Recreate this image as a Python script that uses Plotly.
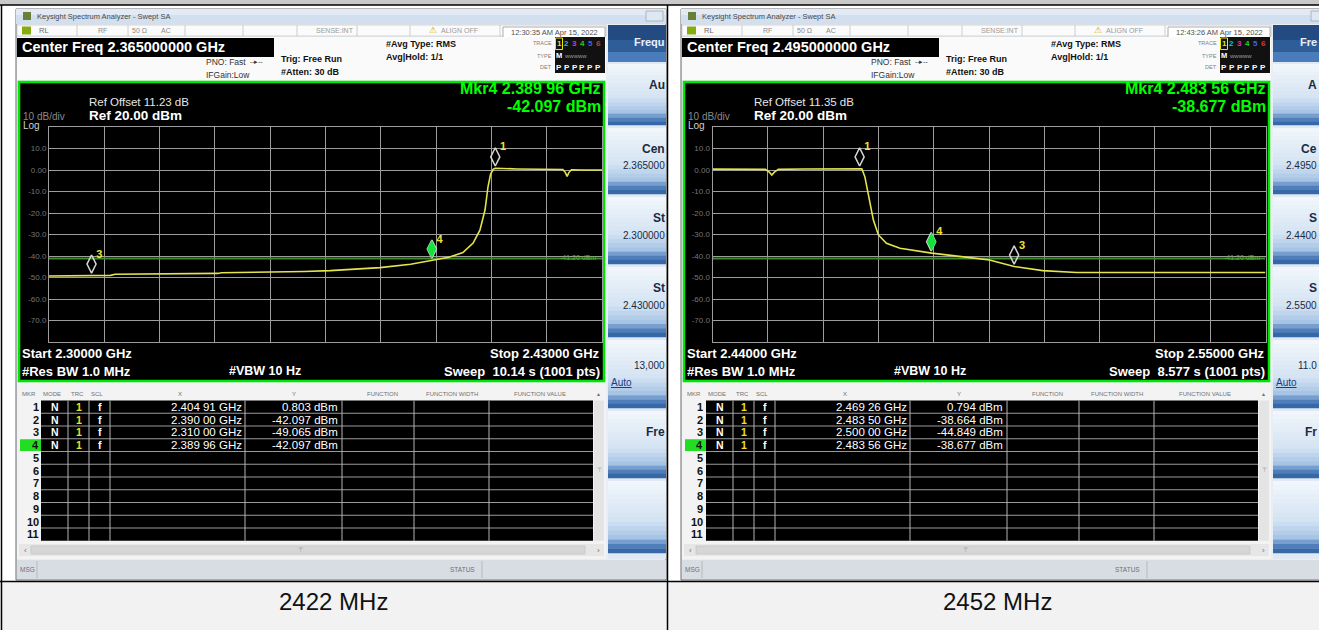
import plotly.graph_objects as go

W, H = 1319, 630
FONT = "Liberation Sans, Arial, sans-serif"
NARROW = "Liberation Sans Narrow, Arial Narrow, Liberation Sans, Arial, sans-serif"

# ------------------------------ data ------------------------------
captions = ["2422 MHz", "2452 MHz"]
start_ghz = [2.30, 2.44]
stop_ghz = [2.43, 2.55]
ref_offset_db = ["11.23", "11.35"]
ref_level = "Ref 20.00 dBm"
sweep_text = ["10.14 s (1001 pts)", "8.577 s (1001 pts)"]
timestamps = ["12:30:35 AM Apr 15, 2022", "12:43:26 AM Apr 15, 2022"]
display_line_dbm = -41.20
display_line_text = "-41.20 dBm"

y_ticks = [10, 0, -10, -20, -30, -40, -50, -60, -70]
y_tick_text = ["10.0", "0.00", "-10.0", "-20.0", "-30.0", "-40.0", "-50.0", "-60.0", "-70.0"]

# Trace 1 (2422 MHz, lower band edge)
trace_a_ghz = [2.300, 2.305, 2.310, 2.3145, 2.3155, 2.330, 2.3397, 2.3405, 2.3496, 2.360,
               2.3661, 2.3778, 2.385, 2.390, 2.394, 2.3973, 2.3997, 2.4013, 2.4025, 2.4032,
               2.4038, 2.4044, 2.4049, 2.410, 2.415, 2.4208, 2.4214, 2.4218, 2.4222, 2.4228,
               2.4250, 2.4300]
trace_a_dbm = [-49.3, -49.2, -49.1, -49.0, -48.5, -48.3, -48.1, -47.8, -47.6, -47.2,
               -46.8, -45.4, -43.8, -42.1, -40.6, -38.4, -34.0, -28.0, -18.6, -7.8,
               -2.0, 0.3, 0.8, 0.5, 0.3, 0.2, -1.2, -3.0, -1.2, 0.1,
               0.0, 0.0]

# Trace 2 (2452 MHz, upper band edge)
trace_b_ghz = [2.440, 2.445, 2.4505, 2.4513, 2.4518, 2.4523, 2.4531, 2.458, 2.4650, 2.4693,
               2.4697, 2.4703, 2.4710, 2.4720, 2.4730, 2.4746, 2.4773, 2.4800, 2.4836, 2.4895,
               2.4951, 2.5000, 2.5057, 2.5124, 2.5200, 2.5350, 2.5500]
trace_b_dbm = [0.4, 0.4, 0.3, -1.0, -2.3, -1.0, 0.3, 0.5, 0.5, 0.79,
               0.6, -3.1, -10.9, -23.3, -30.2, -34.1, -36.4, -37.3, -38.68, -40.3,
               -41.9, -44.85, -46.8, -47.7, -47.7, -47.7, -47.7]

markers_a_ghz = [2.40491, 2.39000, 2.31000, 2.38996]
markers_a_dbm = [0.803, -42.097, -49.065, -42.097]
markers_b_ghz = [2.46926, 2.48350, 2.50000, 2.48356]
markers_b_dbm = [0.794, -38.664, -44.849, -38.677]

marker_labels = ["1", "2", "3", "4"]
table_rows = [str(i) for i in range(1, 12)]
table_header = ["MKR", "MODE", "TRC", "SCL", "X", "Y", "FUNCTION", "FUNCTION WIDTH", "FUNCTION VALUE"]

softkey_labels = [["Frequ", "Au", "Cen", "St", "St", "", "Fre", ""],
                  ["Fre", "A", "Ce", "S", "S", "", "Fr", ""]]
softkey_values = [["", "", "2.365000", "2.300000", "2.430000", "13,000", "", ""],
                  ["", "", "2.4950", "2.4400", "2.5500", "11.0", "", ""]]

traces_ghz = [trace_a_ghz, trace_b_ghz]
traces_dbm = [trace_a_dbm, trace_b_dbm]
markers_ghz = [markers_a_ghz, markers_b_ghz]
markers_dbm = [markers_a_dbm, markers_b_dbm]

# ------------------------------ helpers ------------------------------
shapes, annos = [], []


def X(x):
    return x / W


def Y(y):
    return 1 - y / H


def rect(x0, y0, x1, y1, fill, line=None, lw=0):
    shapes.append(dict(type="rect", xref="paper", yref="paper",
                       x0=X(x0), x1=X(x1), y0=Y(y1), y1=Y(y0), fillcolor=fill,
                       line=dict(color=line if line else "rgba(0,0,0,0)", width=lw),
                       layer="below"))


def seg(x0, y0, x1, y1, color, lw=1):
    shapes.append(dict(type="line", xref="paper", yref="paper",
                       x0=X(x0), x1=X(x1), y0=Y(y0), y1=Y(y1),
                       line=dict(color=color, width=lw), layer="below"))


def txt(x, y, s, size=9, color="#000", bold=False, anchor="left", family=FONT):
    annos.append(dict(xref="paper", yref="paper", x=X(x), y=Y(y),
                      text=f"<b>{s}</b>" if bold else s, showarrow=False,
                      xanchor=anchor, yanchor="middle", borderpad=0,
                      font=dict(size=size, color=color, family=family)))


def fmt_ghz(v):
    s = f"{v:.5f}"
    return s[:5] + " " + s[5:]


def mix(c1, c2, t):
    a = [int(c1[i:i + 2], 16) for i in (1, 3, 5)]
    b = [int(c2[i:i + 2], 16) for i in (1, 3, 5)]
    return "#%02x%02x%02x" % tuple(round(a[j] + (b[j] - a[j]) * t) for j in range(3))


def button(x0, x1, y0, y1):
    h = y1 - y0
    stops = [(0.0, "#f2f7fc"), (0.55, "#d3e3f3"), (0.78, "#a7c5e6"), (0.88, "#5a88c2"), (1.0, "#2a5c9c")]
    n = 16
    for s in range(n):
        t0, t1 = s / n, (s + 1) / n
        tm = (t0 + t1) / 2
        col = stops[-1][1]
        for (p0, c0), (p1, c1) in zip(stops[:-1], stops[1:]):
            if p0 <= tm <= p1:
                col = mix(c0, c1, (tm - p0) / (p1 - p0))
                break
        rect(x0, y0 + t0 * h, x1, y0 + t1 * h + 0.3, col)


# ------------------------------ page / table ------------------------------
rect(0, 0, W, 5, "#c9c9c9")
rect(0, 581.5, W, H, "#f2f2f2")

ROW0, ROWH = 400.5, 12.75
BTN = [(64, 125), (128, 194), (197, 264), (267, 337), (340, 408), (411, 478), (481, 553)]


def draw_panel(k, dx):
    start, stop = start_ghz[k], stop_ghz[k]
    center = (start + stop) / 2
    mk_f, mk_v = markers_ghz[k], markers_dbm[k]
    clip = 665.5 if k == 0 else W - 1

    # window
    rect(16 + dx, 9, 666 + dx, 580, "#e9eef4", "#6a6a6a", 1)
    rect(16 + dx, 9, 666 + dx, 24, "#d2dfee")
    rect(16 + dx, 9, 666 + dx, 15, "#e1eaf5")
    rect(23 + dx, 12, 31 + dx, 20, "#6a7f3a")
    txt(36 + dx, 16.5, "Keysight Spectrum Analyzer - Swept SA", 7.5, "#4a4a4a")
    rect(646 + dx, 11, 663 + dx, 21, "#dfe8f2", "#9aaabb", 0.8)

    # status row
    rect(17 + dx, 25, 606 + dx, 36, "#fbfbfb", "#bcbcbc", 0.6)
    for sx in [77, 128, 185, 243, 297, 357, 410, 500]:
        seg(sx + dx, 25, sx + dx, 36, "#c4c4c4", 0.8)
    rect(22 + dx, 26.5, 31 + dx, 34.5, "#86ad10")
    txt(38 + dx, 30.5, "RL", 7.5, "#6a6a6a")
    txt(97 + dx, 30.5, "RF", 7, "#8a8a8a")
    txt(131 + dx, 30.5, "50 Ω", 7, "#8a8a8a")
    txt(160 + dx, 30.5, "AC", 7, "#8a8a8a")
    txt(355 + dx, 30.5, "SENSE:INT", 7, "#9a9a9a", anchor="right")
    txt(428 + dx, 30, "⚠", 9, "#d8a800")
    txt(440 + dx, 30.5, "ALIGN OFF", 7, "#9a9a9a")
    rect(503 + dx, 27, 605 + dx, 38, "#ffffff", "#9a9a9a", 0.8)
    txt(554 + dx, 32.5, timestamps[k], 7.5, "#505050", anchor="center")

    # header info
    rect(17 + dx, 37, 606 + dx, 80, "#fafafa")
    rect(17 + dx, 38, 274 + dx, 57, "#000000")
    txt(21 + dx, 47.5, f"Center Freq {center:.9f} GHz", 14.5, "#ffffff", bold=True)
    txt(205 + dx, 62, "PNO: Fast", 8.5, "#333333")
    txt(249 + dx, 61.5, "--▸--", 6.5, "#333333")
    txt(205 + dx, 75, "IFGain:Low", 8.5, "#333333")
    txt(280 + dx, 59, "Trig: Free Run", 9, "#111111", bold=True)
    txt(280 + dx, 72, "#Atten: 30 dB", 9, "#111111", bold=True)
    txt(385 + dx, 44, "#Avg Type: RMS", 9, "#111111", bold=True)
    txt(385 + dx, 57, "Avg|Hold: 1/1", 9, "#111111", bold=True)
    txt(553 + dx, 43.5, "TRACE", 5.5, "#808080", anchor="right")
    txt(553 + dx, 55.5, "TYPE", 5.5, "#808080", anchor="right")
    txt(553 + dx, 67.5, "DET", 5.5, "#808080", anchor="right")
    rect(555 + dx, 37, 605 + dx, 73, "#111111")
    tcol = ["#e8e800", "#00c8d8", "#d830d8", "#20d020", "#4060ff", "#e03030"]
    rect(555.5 + dx, 38, 562.5 + dx, 49.5, "rgba(0,0,0,0)", "#e8e800", 1)
    for j in range(6):
        txt(559 + dx + j * 7.8, 43.5, str(j + 1), 8, tcol[j], bold=True, anchor="center")
        txt(559 + dx + j * 7.8, 67.5, "P", 8, "#ffffff", bold=True, anchor="center")
    txt(559 + dx, 55.5, "M", 7.5, "#ffffff", bold=True, anchor="center")
    txt(563 + dx, 55.5, "wwwww", 6, "#9a9a9a")

    # graticule frame
    rect(19 + dx, 82, 604 + dx, 381, "#000000", "#00e600", 2.5)
    txt(88 + dx, 102, f"Ref Offset {ref_offset_db[k]} dB", 11.5, "#e6e6e6")
    txt(88 + dx, 115.5, ref_level, 13.5, "#ffffff", bold=True)
    txt(22 + dx, 116.5, "10 dB/div", 10, "#8a8a8a")
    txt(22 + dx, 126, "Log", 10, "#cfcfcf")
    txt(602 + dx, 89, f"Mkr4 {fmt_ghz(mk_f[3])} GHz", 16, "#00ff00", bold=True, anchor="right")
    txt(602 + dx, 106, f"{mk_v[3]:.3f} dBm", 16, "#00ff00", bold=True, anchor="right")
    txt(21 + dx, 353, f"Start {start:.5f} GHz", 13, "#ffffff", bold=True)
    txt(21 + dx, 371, "#Res BW 1.0 MHz", 13, "#ffffff", bold=True)
    txt(265 + dx, 371, "#VBW 10 Hz", 12.5, "#ffffff", bold=True, anchor="center")
    txt(601 + dx, 353, f"Stop {stop:.5f} GHz", 13, "#ffffff", bold=True, anchor="right")
    txt(601 + dx, 371, f"Sweep  {sweep_text[k]}", 13, "#ffffff", bold=True, anchor="right")

    # marker table
    rect(17 + dx, 383, 606 + dx, 559, "#f3f3f3")
    hx = [21, 42, 70, 90]
    for j in range(4):
        txt(hx[j] + dx, 394, table_header[j], 6, "#707070")
    for j, cx in zip(range(4, 9), [180, 294, 382, 452, 540]):
        txt(cx + dx, 394, table_header[j], 6, "#707070", anchor="center")
    txt(598 + dx, 394, "▴", 6, "#707070", anchor="center")
    nrow = len(table_rows)
    ybot = ROW0 + ROWH * nrow
    rect(41 + dx, ROW0, 593 + dx, ybot, "#000000")
    for i in range(1, nrow):
        seg(41 + dx, ROW0 + ROWH * i, 593 + dx, ROW0 + ROWH * i, "#9a9a9a", 1.2)
    for cx in [68, 89, 110, 245, 342, 414, 489]:
        seg(cx + dx, ROW0, cx + dx, ybot, "#b4b4b4", 1)
    for i, lab in enumerate(table_rows):
        yc = ROW0 + ROWH * (i + 0.5)
        if i == 3:
            rect(20 + dx, ROW0 + ROWH * i + 0.5, 41 + dx, ROW0 + ROWH * (i + 1) - 0.5, "#22dd22")
        txt(39.5 + dx, yc, lab, 11, "#111111", bold=True, anchor="right")
    for i in range(len(mk_f)):
        yc = ROW0 + ROWH * (i + 0.5)
        txt(55 + dx, yc, "N", 10.5, "#ffffff", bold=True, anchor="center")
        txt(79 + dx, yc, "1", 10.5, "#f0e020", bold=True, anchor="center")
        txt(99.5 + dx, yc, "f", 10.5, "#ffffff", bold=True, anchor="center")
        txt(243 + dx, yc, f"{fmt_ghz(mk_f[i])} GHz", 11.5, "#ffffff", family=NARROW, anchor="right")
        txt(339 + dx, yc, f"{mk_v[i]:.3f} dBm", 11.5, "#ffffff", family=NARROW, anchor="right")
    # scrollbars
    rect(594 + dx, ROW0, 604 + dx, ybot, "#e4e4e4")
    txt(599 + dx, 470, "⊤", 6, "#909090", anchor="center")
    rect(19 + dx, 544, 604 + dx, 556, "#e6e6e6")
    rect(31 + dx, 546, 585 + dx, 554, "#d6d6d6", "#c0c0c0", 0.6)
    txt(25 + dx, 550, "‹", 8, "#707070", anchor="center")
    txt(598 + dx, 550, "›", 8, "#707070", anchor="center")
    txt(300 + dx, 550, "⊤", 6, "#909090", anchor="center")
    # message bar
    rect(17 + dx, 560, 666 + dx, 579, "#d8dde3")
    seg(37 + dx, 561, 37 + dx, 578, "#b0b0b0", 0.8)
    seg(482 + dx, 561, 482 + dx, 578, "#b0b0b0", 0.8)
    txt(19 + dx, 569.5, "MSG", 6.5, "#707070")
    txt(462 + dx, 569.5, "STATUS", 6.5, "#707070", anchor="center")

    # softkeys
    sx0, sx1 = 608 + dx, 666 + dx
    rect(sx0, 25, sx1, 559, "#dfe8f3")
    rect(sx0, 25, sx1, 40, "#234b82")
    rect(sx0, 40, sx1, 52, "#2f5d98")
    rect(sx0, 52, sx1, 62, "#4a7cbb")
    txt(clip, 42, softkey_labels[k][0], 11, "#e8f0fb", bold=True, anchor="right")
    for b, (y0, y1) in enumerate(BTN):
        button(sx0, sx1, y0, y1)
        lab = softkey_labels[k][b + 1]
        val = softkey_values[k][b + 1]
        if b == 4:
            txt(clip, y0 + 25, val, 10, "#1a2a40", anchor="right")
            txt(sx0 + 2, y0 + 43, '<span style="text-decoration:underline">Auto</span>', 10, "#1a3a8a")
        else:
            if lab:
                txt(clip, y0 + 21, lab, 12, "#1a2a40", bold=True, anchor="right")
            if val:
                txt(clip, y0 + 38, val, 10, "#1a2a40", anchor="right")


draw_panel(0, 0)
draw_panel(1, 665)

# cell borders on top
seg(0, 5, W, 5, "#000000", 1.5)
seg(1.5, 5, 1.5, H, "#000000", 1.5)
seg(667.5, 5, 667.5, H, "#000000", 1.5)
seg(0, 581.5, W, 581.5, "#000000", 1.5)
txt(333.5, 601.5, captions[0], 24, "#111111", anchor="center")
txt(997.5, 601.5, captions[1], 24, "#111111", anchor="center")

# ------------------------------ spectrum plots ------------------------------
fig = go.Figure()
GRID = "#9c9c9c"
plot_dx = [0, 663.5]
MARKER_LIFT_DB = 5.3
LABEL_LIFT_DB = 9.6

for k in range(2):
    xa = "x" if k == 0 else "x2"
    ya = "y" if k == 0 else "y2"
    start, stop = start_ghz[k], stop_ghz[k]
    fig.add_trace(go.Scatter(x=[start, stop], y=[display_line_dbm, display_line_dbm], mode="lines",
                             line=dict(color="#3f8a2c", width=2), xaxis=xa, yaxis=ya, hoverinfo="skip"))
    fig.add_trace(go.Scatter(x=traces_ghz[k], y=traces_dbm[k], mode="lines",
                             line=dict(color="#e4e44c", width=1.6), xaxis=xa, yaxis=ya, hoverinfo="skip"))
    mf, mv = markers_ghz[k], markers_dbm[k]
    open_idx = [0, 1, 2]
    fig.add_trace(go.Scatter(
        x=[mf[i] for i in open_idx], y=[mv[i] + MARKER_LIFT_DB for i in open_idx], mode="markers",
        marker=dict(symbol="diamond-tall-open", size=13, color="#d6d6d6", line=dict(width=1.5, color="#d6d6d6")),
        xaxis=xa, yaxis=ya, hoverinfo="skip", cliponaxis=False))
    fig.add_trace(go.Scatter(
        x=[mf[3]], y=[mv[3] + MARKER_LIFT_DB], mode="markers",
        marker=dict(symbol="diamond-tall", size=13, color="#12e23a"),
        xaxis=xa, yaxis=ya, hoverinfo="skip", cliponaxis=False))
    lab_idx = [0, 2, 3]
    fig.add_trace(go.Scatter(
        x=[mf[i] for i in lab_idx], y=[mv[i] + LABEL_LIFT_DB for i in lab_idx], mode="markers+text",
        text=[f"<b>{marker_labels[i]}</b>" for i in lab_idx], textposition="middle right",
        textfont=dict(color="#f0e430", size=11, family=FONT),
        marker=dict(size=6, color="rgba(0,0,0,0)"),
        xaxis=xa, yaxis=ya, hoverinfo="skip", cliponaxis=False))
    annos.append(dict(xref=xa, yref=ya, x=stop, y=display_line_dbm, text=display_line_text,
                      showarrow=False, xanchor="right", yanchor="middle", xshift=-4, yshift=1,
                      font=dict(size=7, color="#55b040", family=FONT)))

    d = plot_dx[k]
    xaxis = dict(domain=[X(49 + d), X(602 + d)], range=[start, stop], tick0=start,
                 dtick=(stop - start) / 10, showgrid=True, gridcolor=GRID, gridwidth=1,
                 zeroline=False, showticklabels=False, ticks="", showline=True, mirror=True,
                 linecolor=GRID, linewidth=1, anchor=ya, automargin=False, fixedrange=True)
    yaxis = dict(domain=[Y(342), Y(127)], range=[-80, 20], tickvals=y_ticks, ticktext=y_tick_text,
                 showgrid=True, gridcolor=GRID, gridwidth=1, zeroline=False, ticks="",
                 tickfont=dict(size=8, color="#767676", family=FONT), showline=True, mirror=True,
                 linecolor=GRID, linewidth=1, anchor=xa, automargin=False, fixedrange=True)
    if k == 0:
        fig.update_layout(xaxis=xaxis, yaxis=yaxis)
    else:
        fig.update_layout(xaxis2=xaxis, yaxis2=yaxis)

fig.update_layout(width=W, height=H, margin=dict(l=0, r=0, t=0, b=0),
                  paper_bgcolor="#ffffff", plot_bgcolor="rgba(0,0,0,0)",
                  showlegend=False, shapes=shapes, annotations=annos)

fig.write_html("out.html", config={"displayModeBar": False},
               post_script="document.body.style.margin='0px';document.body.style.overflow='hidden';")
